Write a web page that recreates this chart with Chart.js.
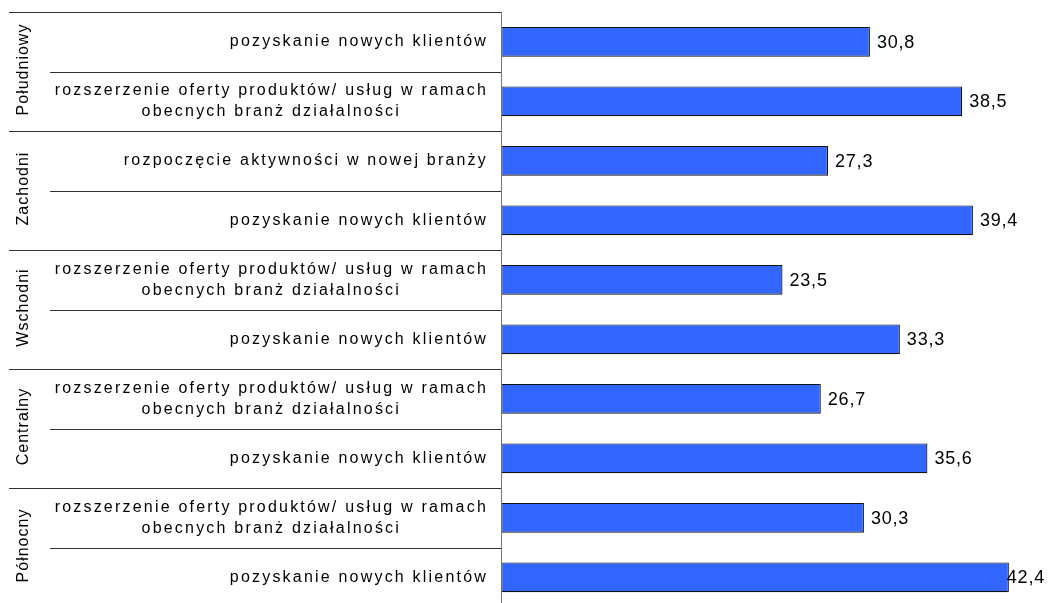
<!DOCTYPE html>
<html>
<head>
<meta charset="utf-8">
<script src="https://cdn.jsdelivr.net/npm/chart.js@4"></script>
<style>
  html, body { margin: 0; padding: 0; background: #fff; overflow: hidden; }
  #wrap { width: 1048px; height: 607px; position: relative; }
</style>
</head>
<body>
<div id="wrap"><canvas id="chart"></canvas></div>
<script>
// --- dane ---
const regions = ["Południowy", "Zachodni", "Wschodni", "Centralny", "Północny"];
const regionSizes = [2, 2, 2, 2, 2];

const NEW_CLIENTS = ["pozyskanie nowych klientów"];
const EXTEND_OFFER = ["rozszerzenie oferty produktów/ usług w ramach", "obecnych branż działalności"];
const NEW_BRANCH = ["rozpoczęcie aktywności w nowej branży"];

const categories = [
  NEW_CLIENTS, EXTEND_OFFER,
  NEW_BRANCH, NEW_CLIENTS,
  EXTEND_OFFER, NEW_CLIENTS,
  EXTEND_OFFER, NEW_CLIENTS,
  EXTEND_OFFER, NEW_CLIENTS
];
const values = [30.8, 38.5, 27.3, 39.4, 23.5, 33.3, 26.7, 35.6, 30.3, 42.4];

const FONT = "'Liberation Sans', Arial, sans-serif";

function fmt(v) {
  return v.toFixed(1).replace(".", ",");
}

// etykiety, linie podziału, wartości
const overlay = {
  id: "overlay",
  afterDatasetsDraw(chart) {
    const { ctx, chartArea: a } = chart;
    const n = categories.length;
    const band = (a.bottom - a.top) / n;
    const axisX = a.left;

    ctx.save();

    // linie między kategoriami w regionie
    ctx.strokeStyle = "#333";
    ctx.lineWidth = 1;
    let start = 0;
    regionSizes.forEach((size, g) => {
      const yTop = Math.round(a.top + start * band) + 0.5;
      ctx.beginPath();
      ctx.moveTo(9, yTop);
      ctx.lineTo(axisX, yTop);
      ctx.stroke();
      for (let k = 1; k < size; k++) {
        const yy = Math.round(a.top + (start + k) * band) + 0.5;
        ctx.beginPath();
        ctx.moveTo(50, yy);
        ctx.lineTo(axisX, yy);
        ctx.stroke();
      }

      // nazwa regionu pionowo
      const yc = a.top + (start + size / 2) * band;
      ctx.save();
      ctx.translate(24, yc - 2);
      ctx.rotate(-Math.PI / 2);
      ctx.font = "16px " + FONT;
      ctx.letterSpacing = "1px";
      ctx.fillStyle = "#000";
      ctx.textAlign = "center";
      ctx.textBaseline = "middle";
      ctx.fillText(regions[g], 0, 0);
      ctx.restore();

      start += size;
    });

    // oś pionowa
    ctx.strokeStyle = "#777";
    ctx.beginPath();
    ctx.moveTo(Math.round(axisX) + 0.5, a.top);
    ctx.lineTo(Math.round(axisX) + 0.5, a.bottom);
    ctx.stroke();

    // etykiety kategorii
    ctx.font = "16px " + FONT;
    ctx.letterSpacing = "2.2px";
    ctx.fillStyle = "#000";
    ctx.textBaseline = "middle";
    const rightEdge = axisX - 13;
    categories.forEach((lines, i) => {
      const yc = a.top + (i + 0.5) * band;
      const widths = lines.map(t => ctx.measureText(t).width);
      const blockW = Math.max(...widths);
      const cx = rightEdge - blockW / 2;
      const lh = 21;
      lines.forEach((t, j) => {
        const yy = yc + (j - (lines.length - 1) / 2) * lh;
        ctx.textAlign = "center";
        ctx.fillText(t, cx, yy);
      });
    });

    // wartości przy słupkach
    const meta = chart.getDatasetMeta(0);
    ctx.font = "18px " + FONT;
    ctx.letterSpacing = "0.8px";
    ctx.textAlign = "left";
    meta.data.forEach((bar, i) => {
      const txt = fmt(values[i]);
      const w = ctx.measureText(txt).width;
      let xx = bar.x + 7;
      if (xx + w > chart.width - 3) xx = chart.width - 3 - w;
      ctx.fillText(txt, xx, bar.y + 1);
    });

    ctx.restore();
  }
};

new Chart(document.getElementById("chart"), {
  type: "bar",
  data: {
    labels: categories,
    datasets: [{
      data: values,
      backgroundColor: "#3366ff",
      borderColor: "#111",
      borderWidth: 1.2,
      borderSkipped: false,
      barPercentage: 0.5,
      categoryPercentage: 1
    }]
  },
  options: {
    indexAxis: "y",
    responsive: true,
    maintainAspectRatio: false,
    animation: false,
    layout: { padding: { left: 501, top: 12, right: 8, bottom: 0 } },
    scales: {
      x: { display: false, min: 0, max: 45 },
      y: { display: false }
    },
    plugins: {
      legend: { display: false },
      tooltip: { enabled: false }
    }
  },
  plugins: [overlay]
});
</script>
</body>
</html>
